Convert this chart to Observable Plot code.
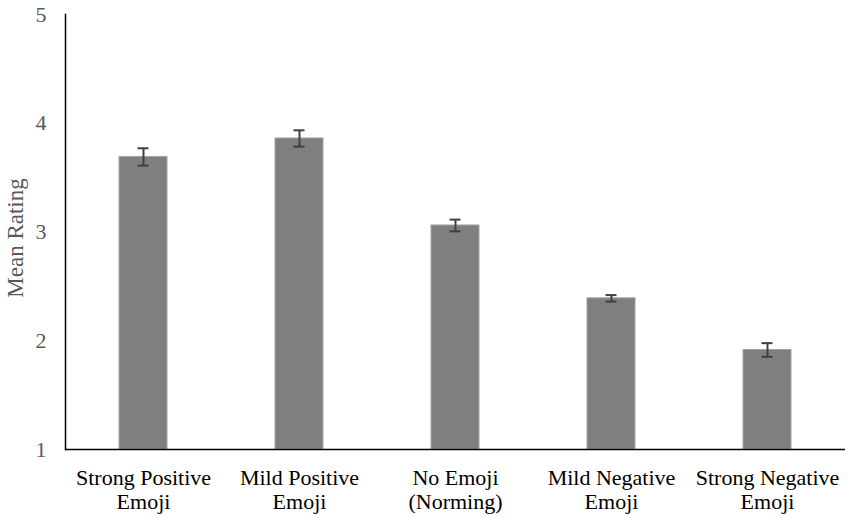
<!DOCTYPE html>
<html>
<head>
<meta charset="utf-8">
<script src="https://cdn.jsdelivr.net/npm/d3@7"></script>
<script src="https://cdn.jsdelivr.net/npm/@observablehq/plot@0.6"></script>
<style>
  html, body { margin: 0; padding: 0; background: #fff; }
  #chart svg { display: block; }
</style>
</head>
<body>
<div id="chart"></div>
<script>
const categories = [
  "Strong Positive\nEmoji",
  "Mild Positive\nEmoji",
  "No Emoji\n(Norming)",
  "Mild Negative\nEmoji",
  "Strong Negative\nEmoji"
];
const means = [3.69, 3.86, 3.06, 2.39, 1.915];
const errors = [0.08, 0.075, 0.054, 0.03, 0.063];
const yTicks = [1, 2, 3, 4, 5];
const yLabel = "Mean Rating";

const data = categories.map((c, i) => ({cat: c, mean: means[i], lo: means[i] - errors[i], hi: means[i] + errors[i]}));
const serif = "Liberation Serif";

const chart = Plot.plot({
  width: 850,
  height: 518,
  marginLeft: 65,
  marginRight: 5,
  marginTop: 14,
  marginBottom: 69,
  style: {fontFamily: serif, fontSize: "22px", background: "#fff"},
  x: {domain: categories, paddingInner: 0.69, paddingOuter: 0.345, label: null},
  y: {domain: [1, 5], ticks: yTicks, label: null},
  marks: [
    Plot.barY(data, {x: "cat", y1: 1, y2: "mean", fill: "#7f7f7f", stroke: "#a3a3a3", strokeWidth: 1}),
    Plot.ruleX(data, {x: "cat", y1: "lo", y2: "hi", stroke: "#404040", strokeWidth: 2}),
    Plot.tickY(data, {x: "cat", y: "lo", stroke: "#404040", strokeWidth: 2, insetLeft: 18.5, insetRight: 18.5}),
    Plot.tickY(data, {x: "cat", y: "hi", stroke: "#404040", strokeWidth: 2, insetLeft: 18.5, insetRight: 18.5}),
    Plot.axisY({ticks: yTicks, tickFormat: d => String(d), tickSize: 0, tickPadding: 19,
      fill: "#595959", fontSize: 22, fontFamily: serif, label: null}),
    Plot.axisX({tickSize: 0, tickPadding: 18, fill: "#000", fontSize: 22, fontFamily: serif, lineHeight: 1.1, label: null}),
    Plot.text([yLabel], {frameAnchor: "left", textAnchor: "middle", rotate: -90, dx: -50, dy: 6, fontSize: 23, fontFamily: serif, fill: "#595959"}),
    Plot.frame({anchor: "left", stroke: "#000", strokeWidth: 1.5}),
    Plot.ruleY([1], {stroke: "#000", strokeWidth: 1.5})
  ]
});
document.getElementById("chart").appendChild(chart);
</script>
</body>
</html>
